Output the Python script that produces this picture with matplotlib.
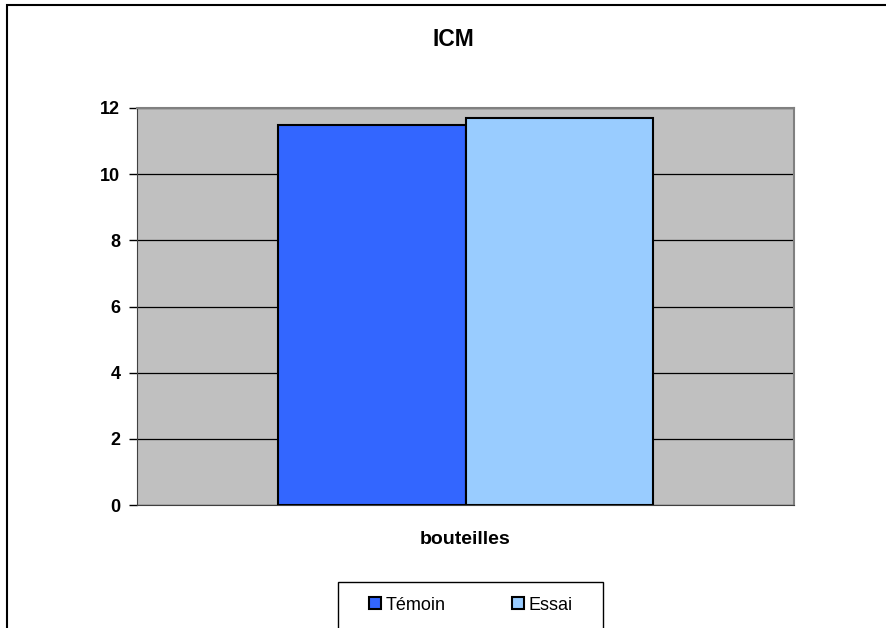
import matplotlib
matplotlib.use("Agg")
import matplotlib.pyplot as plt
from matplotlib.patches import Rectangle, Patch

plt.rcParams['font.family'] = ['Liberation Sans', 'DejaVu Sans']

# data
categories = ['bouteilles']
series = ['Témoin', 'Essai']
values = [11.5, 11.7]
colors = ['#3366FF', '#99CCFF']
yticks = [0, 2, 4, 6, 8, 10, 12]

W, H = 886, 628
fig = plt.figure(figsize=(W / 100, H / 100), dpi=100)

# outer chart frame (only left/top visible in the picture)
fig.patches.append(Rectangle((7 / W, -0.1), 1.2, 1 - 5 / H + 0.1, transform=fig.transFigure,
                             fill=False, edgecolor='black', linewidth=1.5))

ax = fig.add_axes([137 / W, (H - 505) / H, 657 / W, 397 / H])
ax.set_facecolor('#C0C0C0')

bw = 0.286
for i, (name, v, c) in enumerate(zip(series, values, colors)):
    ax.bar(0 + (i - 0.5) * bw, v, width=bw, color=c, edgecolor='black', linewidth=1.5,
           label=name, zorder=3)

ax.set_xlim(-0.5, 0.5)
ax.set_ylim(0, 12)
ax.set_yticks(yticks)
ax.set_yticklabels([str(t) for t in yticks], fontsize=13, fontweight='bold')
ax.set_xticks([])
ax.yaxis.grid(True, color='black', linewidth=0.9, zorder=1)
ax.set_axisbelow(True)
ax.tick_params(axis='y', direction='out', length=6, width=1, pad=6)

for s in ['top', 'right']:
    ax.spines[s].set_color('#808080')
    ax.spines[s].set_linewidth(1.5)
ax.spines['left'].set_color('#404040')
ax.spines['bottom'].set_color('#404040')

fig.text(453 / W, 1 - 39 / H, 'ICM', ha='center', va='center', fontsize=16.5, fontweight='bold')
fig.text(465 / W, 1 - 540 / H, categories[0], ha='center', va='center', fontsize=14,
         fontweight='bold')

# legend box
fig.patches.append(Rectangle((338 / W, -0.1), (603 - 338) / W, (H - 582) / H + 0.1,
                             transform=fig.transFigure, fill=False, edgecolor='black',
                             linewidth=1))
handles = [Patch(facecolor=c, edgecolor='black', linewidth=1.5) for c in colors]
fig.legend(handles, series, loc='center', bbox_to_anchor=(471 / W, 1 - 605 / H), ncol=2,
           frameon=False, fontsize=13, handlelength=0.65, handleheight=0.65,
           handletextpad=0.25, columnspacing=3.7)

fig.savefig('out.png', dpi=100)
